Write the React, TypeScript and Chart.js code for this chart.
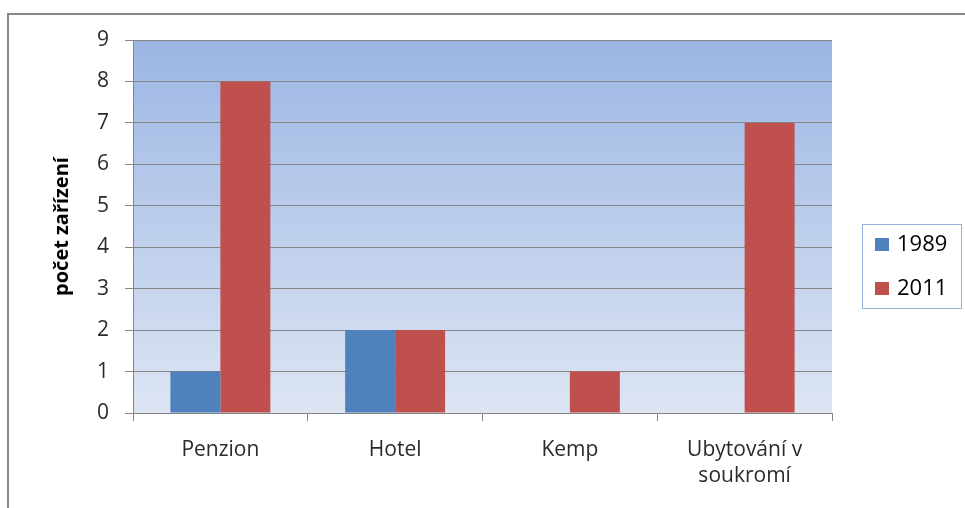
import React, { useEffect, useRef } from "react";
import { Chart, registerables } from "chart.js";

Chart.register(...registerables);

const categories: (string | string[])[] = ["Penzion", "Hotel", "Kemp", ["Ubytování v", "soukromí"]];
const series1989: number[] = [1, 2, 0, 0];
const series2011: number[] = [8, 2, 1, 7];
const seriesLabels: string[] = ["1989", "2011"];
const seriesColors: string[] = ["#4f81bd", "#c0504d"];
const yTitle = "počet zařízení";
const FONT = "'Open Sans', 'DejaVu Sans', sans-serif";

const framePlugin = {
  id: "frame",
  beforeDraw(chart: any) {
    const { ctx, chartArea } = chart;
    ctx.save();
    ctx.fillStyle = "#ffffff";
    ctx.fillRect(0, 0, chart.width, chart.height);
    const g = ctx.createLinearGradient(0, chartArea.top, 0, chartArea.bottom);
    g.addColorStop(0, "#9bb6e4");
    g.addColorStop(1, "#dde5f3");
    ctx.fillStyle = g;
    ctx.fillRect(chartArea.left, chartArea.top, chartArea.right - chartArea.left, chartArea.bottom - chartArea.top);
    ctx.restore();
  },
  afterDraw(chart: any) {
    const { ctx } = chart;
    ctx.save();
    ctx.strokeStyle = "#878787";
    ctx.lineWidth = 2;
    ctx.beginPath();
    ctx.moveTo(8, chart.height + 2);
    ctx.lineTo(8, 14);
    ctx.lineTo(chart.width + 2, 14);
    ctx.stroke();
    const lx = 862, ly = 224, lw = 99, lh = 84;
    ctx.strokeStyle = "#95b3d7";
    ctx.lineWidth = 1;
    ctx.strokeRect(lx + 0.5, ly + 0.5, lw, lh);
    ctx.font = `22px ${FONT}`;
    ctx.textBaseline = "middle";
    ctx.textAlign = "left";
    seriesLabels.forEach((lab, i) => {
      const cy = ly + 20 + i * 44;
      ctx.fillStyle = seriesColors[i];
      ctx.fillRect(875, cy - 6, 14, 13);
      ctx.fillStyle = "#000000";
      ctx.fillText(lab, 897, cy + 1);
    });
    ctx.restore();
  },
};

export default function App() {
  const ref = useRef<HTMLCanvasElement | null>(null);
  useEffect(() => {
    if (!ref.current) return;
    const chart = new Chart(ref.current, {
      type: "bar",
      data: {
        labels: categories as any,
        datasets: [
          { label: seriesLabels[0], data: series1989, backgroundColor: seriesColors[0], categoryPercentage: 0.572, barPercentage: 1 },
          { label: seriesLabels[1], data: series2011, backgroundColor: seriesColors[1], categoryPercentage: 0.572, barPercentage: 1 },
        ],
      },
      options: {
        responsive: false,
        animation: false,
        layout: { padding: { left: 0, top: 40, right: 133, bottom: 0 } },
        plugins: { legend: { display: false }, tooltip: { enabled: false } },
        scales: {
          x: {
            grid: { display: true, drawOnChartArea: false, color: "#868686", tickLength: 8, offset: true },
            border: { color: "#868686" },
            ticks: { color: "#2b2b2b", font: { family: FONT, size: 21, lineHeight: 1.25 }, padding: 16, maxRotation: 0, autoSkip: false },
            afterFit: (s: any) => { s.height = 95; },
          },
          y: {
            min: 0,
            max: 9,
            ticks: { stepSize: 1, color: "#2b2b2b", font: { family: FONT, size: 21 }, padding: 16 },
            grid: { color: "#868686", tickLength: 8 },
            border: { color: "#868686" },
            title: { display: true, text: yTitle, color: "#000000", font: { family: FONT, size: 20, weight: "bold" }, padding: { top: 50, bottom: 0 } },
            afterFit: (s: any) => { s.width = 133; },
          },
        },
      },
      plugins: [framePlugin],
    });
    return () => chart.destroy();
  }, []);
  return (
    <div style={{ position: "absolute", left: 0, top: 0, width: 965, height: 508, background: "#fff" }}>
      <canvas ref={ref} width={965} height={508} style={{ display: "block" }} />
    </div>
  );
}
